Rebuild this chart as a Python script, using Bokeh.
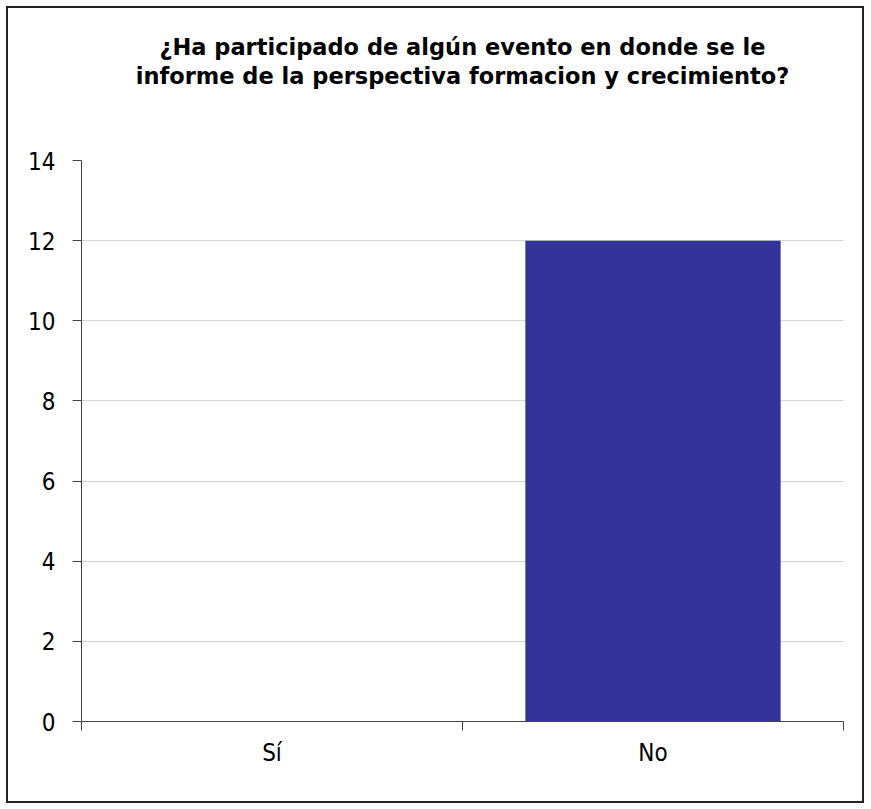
from bokeh.plotting import figure
from bokeh.models import Range1d, FixedTicker, Title
from bokeh.embed import file_html
from bokeh.resources import INLINE

# Survey answers and their counts
categories = ["Sí", "No"]
counts = [0, 12]
y_ticks = [0, 2, 4, 6, 8, 10, 12, 14]

title_lines = ["¿Ha participado de algún evento en donde se le",
               "informe de la perspectiva formacion y crecimiento?"]

FONT = "DejaVu Sans Condensed"
TITLE_FONT = "DejaVu Sans"
BAR_COLOR = "#333399"
AXIS_COLOR = "#444444"

p = figure(
    width=858, height=797,
    x_range=Range1d(0, len(categories)),
    y_range=Range1d(y_ticks[0], y_ticks[-1]),
    output_backend="svg", toolbar_location=None,
    min_border_left=73, min_border_right=23,
    min_border_top=152, min_border_bottom=84,
)
p.styles = {"border": "2px solid #222222", "margin-left": "6px", "margin-top": "6px"}
p.background_fill_color = "white"
p.border_fill_color = "white"
p.outline_line_color = None
p.title = None

# Title panels stack upward from the plot area: a blank gap first,
# then the second line, then the first line.
title_style = dict(align="center", text_font=TITLE_FONT, text_font_size="22.5px",
                   text_font_style="bold", text_color="black")
p.add_layout(Title(text=" ", standoff=44, **title_style), "above")
p.add_layout(Title(text=title_lines[1], standoff=0, **title_style), "above")
p.add_layout(Title(text=title_lines[0], standoff=2, **title_style), "above")

# Bars: one slot per category, centred in its slot
xs = [i + 0.5 for i in range(len(categories))]
p.vbar(x=xs, top=counts, width=0.67, color=BAR_COLOR, line_color=None)

# X axis: category labels in the middle of each slot, tick marks at slot edges
p.xaxis.ticker = FixedTicker(ticks=xs, minor_ticks=list(range(len(categories) + 1)))
p.xaxis.major_label_overrides = {x: c for x, c in zip(xs, categories)}
p.xaxis.major_tick_out = 0
p.xaxis.major_tick_in = 0
p.xaxis.minor_tick_out = 9
p.xaxis.minor_tick_in = 0
p.xaxis.minor_tick_line_color = AXIS_COLOR
p.xaxis.axis_line_color = AXIS_COLOR
p.xaxis.major_label_text_font = FONT
p.xaxis.major_label_text_font_size = "24px"
p.xaxis.major_label_text_color = "black"
p.xaxis.major_label_standoff = 8

# Y axis
p.yaxis.ticker = FixedTicker(ticks=y_ticks)
p.yaxis.major_tick_out = 9
p.yaxis.major_tick_in = 0
p.yaxis.minor_tick_line_color = None
p.yaxis.major_tick_line_color = AXIS_COLOR
p.yaxis.axis_line_color = AXIS_COLOR
p.yaxis.major_label_text_font = FONT
p.yaxis.major_label_text_font_size = "24px"
p.yaxis.major_label_text_color = "black"
p.yaxis.major_label_standoff = 17

p.xgrid.grid_line_color = None
p.ygrid.grid_line_color = "#d4d4d4"
p.ygrid.grid_line_width = 1

open("out.html", "w").write(file_html(p, INLINE))
